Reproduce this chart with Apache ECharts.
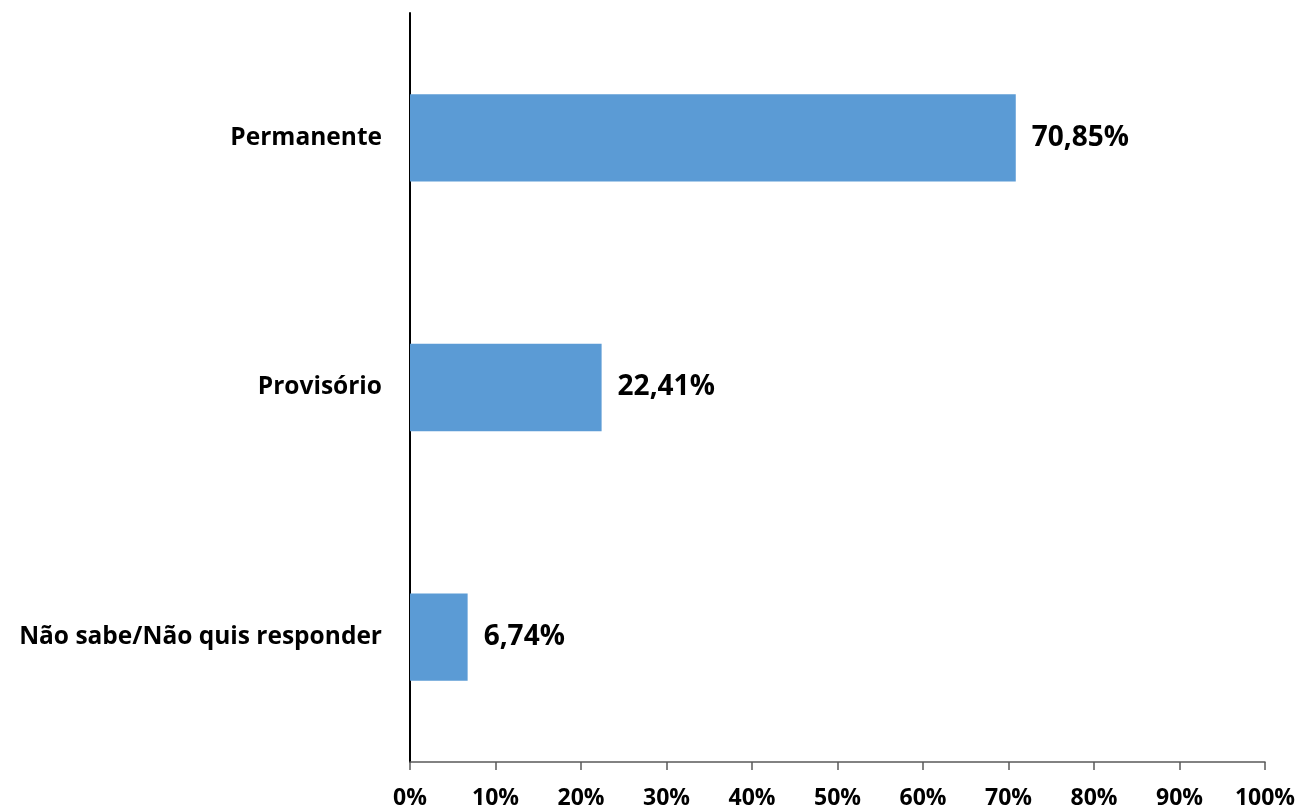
<!DOCTYPE html>
<html>
<head>
<meta charset="utf-8">
<script src="https://cdn.jsdelivr.net/npm/echarts@6/dist/echarts.min.js"></script>
<style>
  html, body { margin: 0; padding: 0; background: #fff; }
  #chart { width: 1301px; height: 810px; }
</style>
</head>
<body>
<div id="chart"></div>
<script>
const categories = ['Não sabe/Não quis responder', 'Provisório', 'Permanente']
const values = [6.74, 22.41, 70.85]

const chart = echarts.init(document.getElementById('chart'))

chart.setOption({
  animation: false,
  textStyle: { fontFamily: 'Open Sans' },
  grid: { left: 410, right: 36, top: 13, bottom: 47 },
  xAxis: {
    type: 'value',
    min: 0,
    max: 100,
    interval: 10,
    axisLine: { show: true, lineStyle: { color: '#595959', width: 1.5 } },
    axisTick: { show: true, length: 8, lineStyle: { color: '#595959', width: 1.5 } },
    splitLine: { show: false },
    axisLabel: {
      formatter: '{value}%',
      color: '#000',
      fontSize: 23,
      fontWeight: 'bold',
      margin: 25
    }
  },
  yAxis: {
    type: 'category',
    data: categories,
    axisLine: { show: true, lineStyle: { color: '#000', width: 2 } },
    axisTick: { show: false },
    axisLabel: {
      color: '#000',
      fontSize: 24.5,
      fontWeight: 'bold',
      margin: 28
    }
  },
  series: [{
    type: 'bar',
    data: values,
    barCategoryGap: '65%',
    itemStyle: { color: '#5B9BD5' },
    label: {
      show: true,
      position: 'right',
      distance: 16,
      color: '#000',
      fontSize: 28,
      fontWeight: 'bold',
      formatter: p => p.value.toFixed(2).replace('.', ',') + '%'
    }
  }]
})
</script>
</body>
</html>
